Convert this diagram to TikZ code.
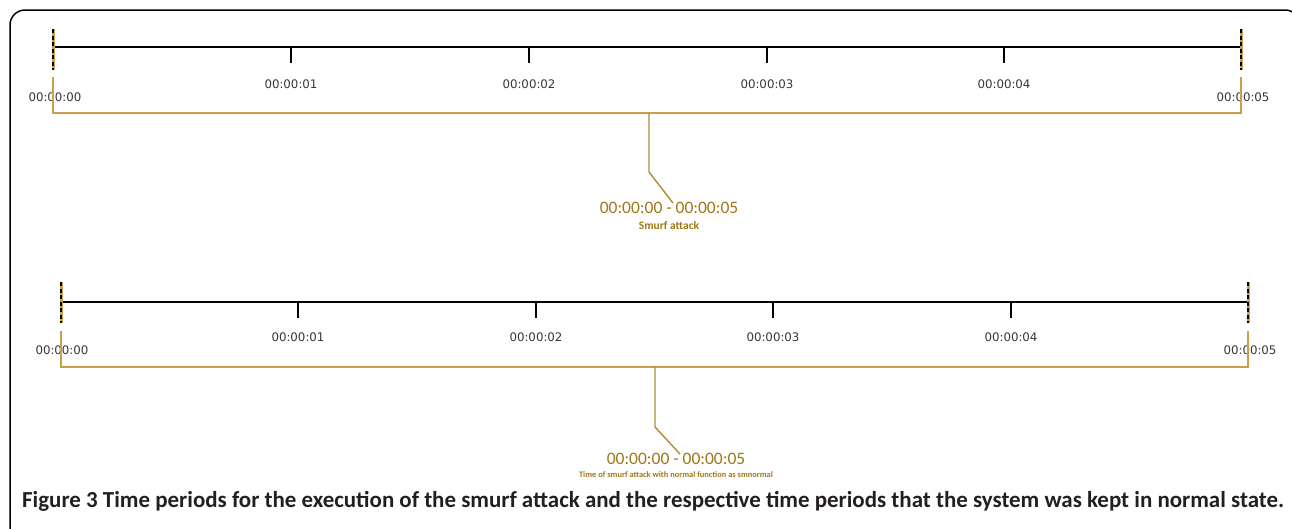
\documentclass[tikz,border=0pt]{standalone}
\usepackage{fontspec}
\setmainfont{Carlito}
\newfontfamily\stampfont{DejaVu Sans}
\usetikzlibrary{positioning}

\definecolor{goldline}{RGB}{200,160,75}
\definecolor{goldtext}{RGB}{160,118,22}
\definecolor{stampgray}{RGB}{55,55,55}
\definecolor{captiongray}{RGB}{35,31,32}

\tikzset{
  axisline/.style={black,line width=1.8pt},
  tickmark/.style={black,line width=1.2pt},
  capgold/.style={goldline,line width=3pt},
  capblack/.style={black,line width=2pt,dash pattern=on 4pt off 2.5pt},
  bracket/.style={goldline,line width=1.4pt},
  stemline/.style={goldtext!85,line width=1.4pt},
  stamp/.style={text=stampgray,font=\stampfont\fontsize{11.8}{12}\selectfont,inner sep=0pt},
  rangelabel/.style={text=goldtext,font=\fontsize{17.5}{18}\selectfont,inner sep=0pt},
  eventlabel/.style={text=goldtext,font=\bfseries\fontsize{11.5}{12}\selectfont,inner sep=0pt}
}

\begin{document}
\begin{tikzpicture}[x=1pt,y=-1pt]
  \useasboundingbox (0,0) rectangle (1292,528);

  % Frame
  \begin{scope}
    \clip (0,0) rectangle (1292,528);
    \draw[black,line width=1.5pt,rounded corners=15pt] (10,10) rectangle (1300,560);
  \end{scope}

  % Upper axis
  \draw[axisline] (53,47) -- (1241,47);
  \draw[capgold] (53,29) -- (53,70);
  \draw[capblack] (53,29) -- (53,70);
  \draw[capgold] (1241,29) -- (1241,70);
  \draw[capblack] (1241,29) -- (1241,70);

  % Upper ticks
  \draw[tickmark] (291,47) -- (291,63);
  \draw[tickmark] (529,47) -- (529,63);
  \draw[tickmark] (767,47) -- (767,63);
  \draw[tickmark] (1004,47) -- (1004,63);
  \node[stamp] (t0) at (55,97) {00:00:00};
  \node[stamp] (t1) at (291,84) {00:00:01};
  \node[stamp] (t2) at (529,84) {00:00:02};
  \node[stamp] (t3) at (767,84) {00:00:03};
  \node[stamp] (t4) at (1004,84) {00:00:04};
  \node[stamp] (t5) at (1243,97) {00:00:05};

  % Upper bracket
  \draw[bracket] (53,77) -- (53,113) -- (1241,113) -- (1241,77);
  \node[rangelabel] (toprange) at (669,208) {00:00:00 - 00:00:05};
  \node[eventlabel, below=7pt of toprange] (topevent) {Smurf attack};
  \coordinate (topstem) at (649,113);
  \draw[stemline] (topstem) -- (649,172) -- ([xshift=4pt,yshift=-1pt]toprange.north);

  % Lower axis
  \draw[axisline] (61,302) -- (1248,302);
  \draw[capgold] (61,282) -- (61,323);
  \draw[capblack] (61,282) -- (61,323);
  \draw[capgold] (1248,282) -- (1248,323);
  \draw[capblack] (1248,282) -- (1248,323);

  % Lower ticks
  \draw[tickmark] (298,302) -- (298,318);
  \draw[tickmark] (536,302) -- (536,318);
  \draw[tickmark] (773,302) -- (773,318);
  \draw[tickmark] (1011,302) -- (1011,318);
  \node[stamp] (b0) at (62,350) {00:00:00};
  \node[stamp] (b1) at (298,337) {00:00:01};
  \node[stamp] (b2) at (536,337) {00:00:02};
  \node[stamp] (b3) at (773,337) {00:00:03};
  \node[stamp] (b4) at (1011,337) {00:00:04};
  \node[stamp] (b5) at (1250,350) {00:00:05};

  % Lower bracket
  \draw[bracket] (61,331) -- (61,367) -- (1248,367) -- (1248,331);
  \node[rangelabel] (lowrange) at (676,459) {00:00:00 - 00:00:05};
  \node[eventlabel, below=6pt of lowrange, font=\bfseries\fontsize{8.4}{9}\selectfont] (lowevent) {Time of smurf attack with normal function as smnormal};
  \coordinate (lowstem) at (655,367);
  \draw[stemline] (lowstem) -- (655,427) -- ([xshift=4pt,yshift=-1pt]lowrange.north);

  % Caption
  \node[anchor=west,inner sep=0pt,text=captiongray] (caption) at (22,501)
    {\resizebox{1262pt}{!}{\bfseries\fontsize{21}{22}\selectfont Figure 3 Time periods for the execution of the smurf attack and the respective time periods that the system was kept in normal state.}};
\end{tikzpicture}
\end{document}
